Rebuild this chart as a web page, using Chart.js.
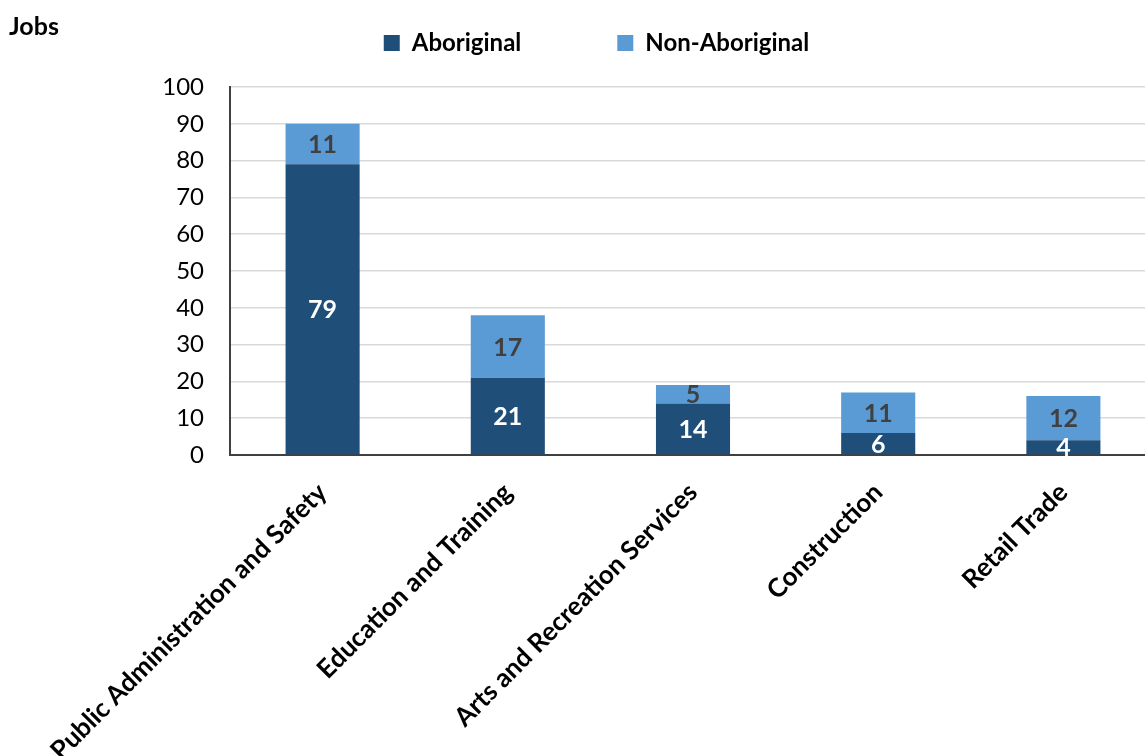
<!DOCTYPE html>
<html>
<head>
<meta charset="utf-8">
<script src="https://cdn.jsdelivr.net/npm/chart.js@4"></script>
<style>
  html, body { margin: 0; padding: 0; background: #fff; overflow: hidden; }
  #wrap { width: 1145px; height: 756px; position: relative; }
</style>
</head>
<body>
<div id="wrap"><canvas id="chart"></canvas></div>
<script>
const categories = [
  "Public Administration and Safety",
  "Education and Training",
  "Arts and Recreation Services",
  "Construction",
  "Retail Trade"
];
const aboriginal = [79, 21, 14, 6, 4];
const nonAboriginal = [11, 17, 5, 11, 12];
const yTicks = [0, 10, 20, 30, 40, 50, 60, 70, 80, 90, 100];

const FONT = "Lato, 'Open Sans', sans-serif";
const LEGEND_GAP = 96;

// 막대 안쪽 값 표시
const segmentLabels = {
  id: 'segmentLabels',
  afterDatasetsDraw(chart) {
    const ctx = chart.ctx;
    ctx.save();
    ctx.font = "bold 25px " + FONT;
    ctx.textAlign = 'center';
    ctx.textBaseline = 'middle';
    chart.data.datasets.forEach((ds, i) => {
      const meta = chart.getDatasetMeta(i);
      ctx.fillStyle = i === 0 ? '#ffffff' : '#404040';
      meta.data.forEach((bar, j) => {
        const mid = (bar.y + bar.base) / 2;
        ctx.fillText(String(ds.data[j]), bar.x, mid + 1);
      });
    });
    ctx.restore();
  }
};

// 왼쪽 위 "Jobs"
const unitLabel = {
  id: 'unitLabel',
  afterDraw(chart) {
    const ctx = chart.ctx;
    ctx.save();
    ctx.font = "bold 25px " + FONT;
    ctx.fillStyle = '#000';
    ctx.textBaseline = 'middle';
    ctx.fillText('Jobs', 9, 27);
    ctx.restore();
  }
};

// 범례 위치/높이 고정, x축은 캔버스 오른쪽 밖까지 조금 늘림
const layoutTweak = {
  id: 'layoutTweak',
  beforeInit(chart) {
    const orig = chart.legend.fit;
    chart.legend.fit = function () {
      orig.bind(this)();
      this.height = 62;
    };
  },
  afterLayout(chart) {
    const lg = chart.legend;
    lg.top = 31 - LEGEND_GAP;
    lg.bottom = 87;
    lg.height = lg.bottom - lg.top;
    lg.left += 24;
    lg.right += 24;

    const xs = chart.scales.x;
    xs.right = 1156;
    xs.width = xs.right - xs.left;
    xs.configure();
  }
};

new Chart(document.getElementById('chart'), {
  type: 'bar',
  data: {
    labels: categories,
    datasets: [
      {
        label: 'Aboriginal',
        data: aboriginal,
        backgroundColor: '#1F4E79',
        barPercentage: 0.4,
        categoryPercentage: 1.0
      },
      {
        label: 'Non-Aboriginal',
        data: nonAboriginal,
        backgroundColor: '#5B9BD5',
        barPercentage: 0.4,
        categoryPercentage: 1.0
      }
    ]
  },
  options: {
    responsive: true,
    maintainAspectRatio: false,
    animation: false,
    layout: { padding: { top: 25, left: 0, right: 0, bottom: 0 } },
    scales: {
      x: {
        stacked: true,
        grid: { display: false, drawTicks: false },
        border: { color: '#404040', width: 2 },
        ticks: {
          autoSkip: false,
          maxRotation: 45,
          minRotation: 45,
          padding: 22,
          color: '#000',
          font: { family: FONT, size: 26, weight: 'bold' }
        },
        afterFit(scale) { scale.height = 301; }
      },
      y: {
        stacked: true,
        min: 0,
        max: 100,
        afterBuildTicks(scale) { scale.ticks = yTicks.map(v => ({ value: v })); },
        grid: { color: '#d9d9d9', lineWidth: 1.5, drawTicks: false },
        border: { color: '#404040', width: 2 },
        ticks: {
          padding: 26,
          color: '#000',
          font: { family: FONT, size: 24 }
        },
        afterFit(scale) { scale.width = 230; }
      }
    },
    plugins: {
      legend: {
        position: 'top',
        labels: {
          boxWidth: 16,
          boxHeight: 16,
          padding: LEGEND_GAP,
          color: '#000',
          font: { family: FONT, size: 24, weight: 'bold' }
        }
      },
      tooltip: { enabled: false }
    }
  },
  plugins: [segmentLabels, unitLabel, layoutTweak]
});
</script>
</body>
</html>
